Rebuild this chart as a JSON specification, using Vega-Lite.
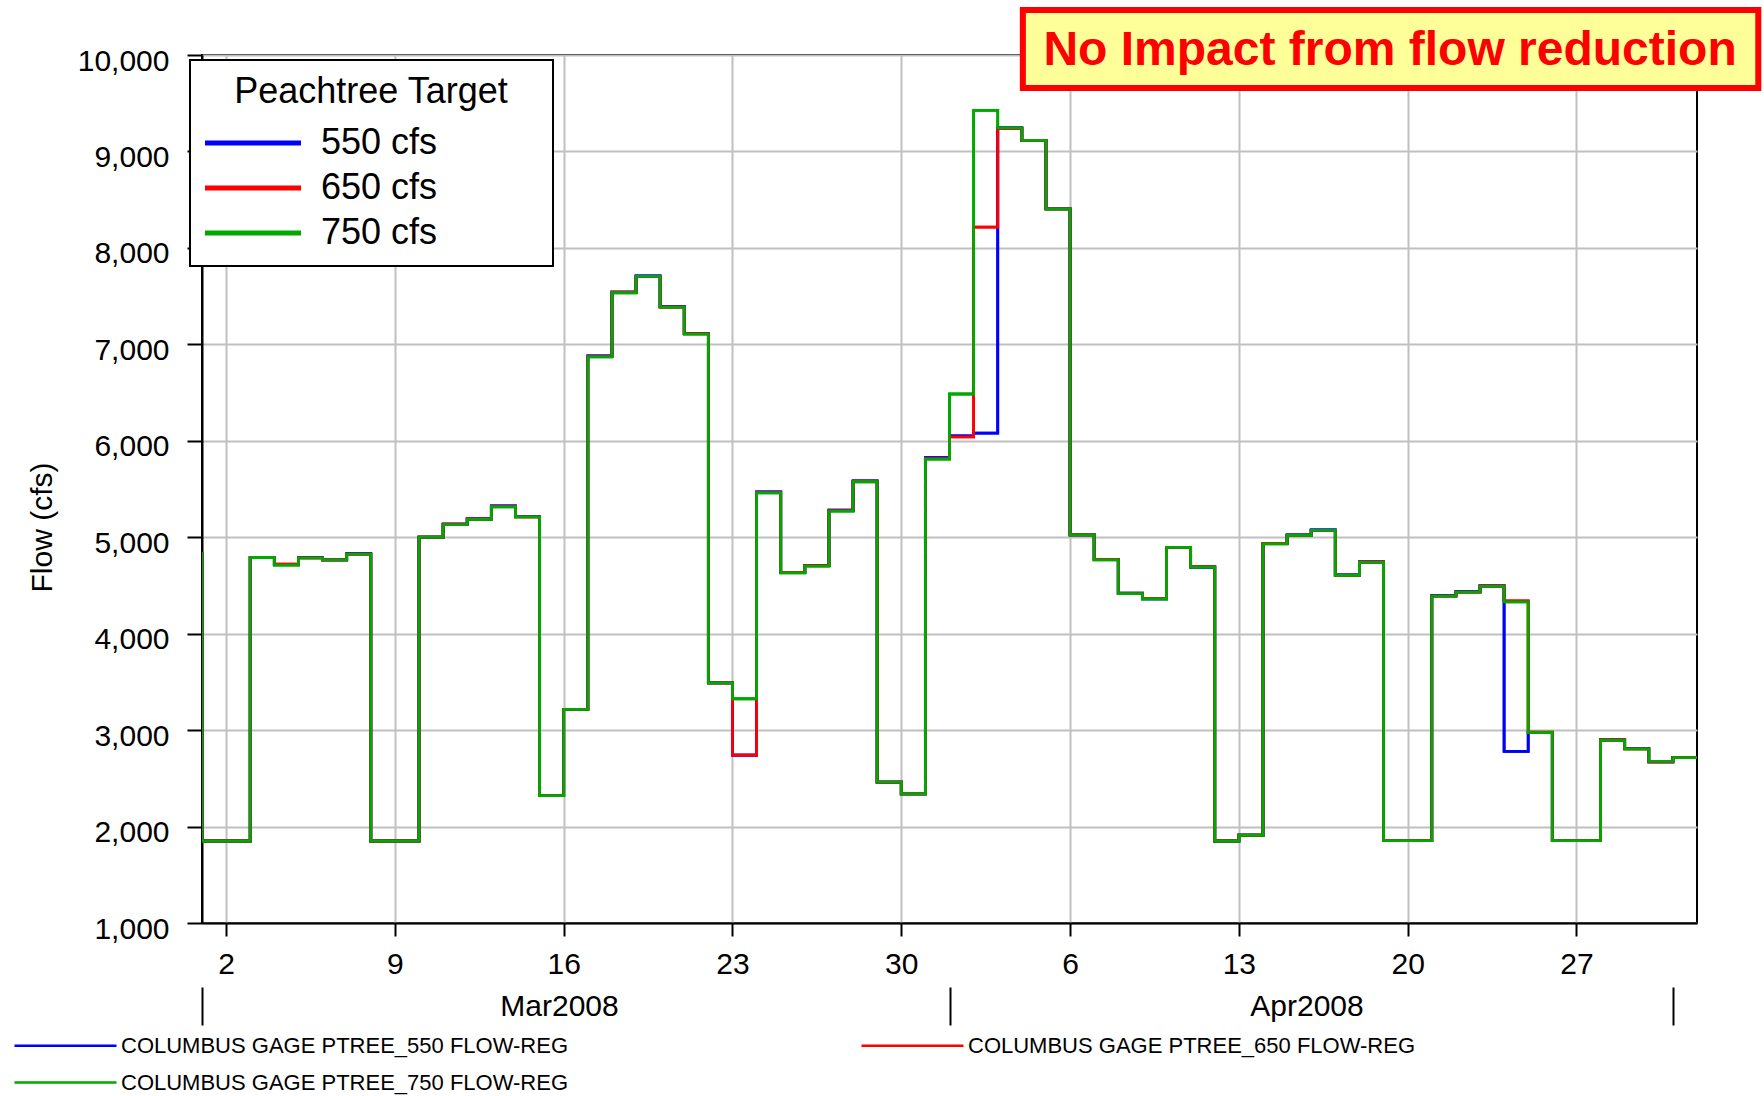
{
  "$schema": "https://vega.github.io/schema/vega-lite/v6.json",
  "width": 1495,
  "height": 868,
  "autosize": {"type": "none"},
  "padding": {"left": 202, "top": 55, "right": 67, "bottom": 173},
  "background": "white",
  "config": {
    "font": "Liberation Sans",
    "view": {"stroke": "#000000", "strokeWidth": 2},
    "axis": {"labelFont": "Liberation Sans", "titleFont": "Liberation Sans", "labelColor": "#000000", "titleColor": "#000000"},
    "legend": {"labelFont": "Liberation Sans", "titleFont": "Liberation Sans", "labelColor": "#000000", "titleColor": "#000000"}
  },
  "data": {
    "values": [
      {"date": "2008-02-29T00:00", "550 cfs": 4830, "650 cfs": 4830, "750 cfs": 4830},
      {"date": "2008-03-01T00:00", "550 cfs": 1850, "650 cfs": 1850, "750 cfs": 1850},
      {"date": "2008-03-02T00:00", "550 cfs": 1850, "650 cfs": 1850, "750 cfs": 1850},
      {"date": "2008-03-03T00:00", "550 cfs": 4790, "650 cfs": 4790, "750 cfs": 4790},
      {"date": "2008-03-04T00:00", "550 cfs": 4715, "650 cfs": 4720, "750 cfs": 4710},
      {"date": "2008-03-05T00:00", "550 cfs": 4790, "650 cfs": 4785, "750 cfs": 4785},
      {"date": "2008-03-06T00:00", "550 cfs": 4765, "650 cfs": 4765, "750 cfs": 4765},
      {"date": "2008-03-07T00:00", "550 cfs": 4830, "650 cfs": 4825, "750 cfs": 4825},
      {"date": "2008-03-08T00:00", "550 cfs": 1850, "650 cfs": 1850, "750 cfs": 1850},
      {"date": "2008-03-09T00:00", "550 cfs": 1850, "650 cfs": 1850, "750 cfs": 1850},
      {"date": "2008-03-10T00:00", "550 cfs": 5000, "650 cfs": 5000, "750 cfs": 5000},
      {"date": "2008-03-11T00:00", "550 cfs": 5135, "650 cfs": 5135, "750 cfs": 5130},
      {"date": "2008-03-12T00:00", "550 cfs": 5190, "650 cfs": 5190, "750 cfs": 5185},
      {"date": "2008-03-13T00:00", "550 cfs": 5325, "650 cfs": 5320, "750 cfs": 5315},
      {"date": "2008-03-14T00:00", "550 cfs": 5215, "650 cfs": 5210, "750 cfs": 5210},
      {"date": "2008-03-15T00:00", "550 cfs": 2320, "650 cfs": 2320, "750 cfs": 2320},
      {"date": "2008-03-16T00:00", "550 cfs": 3215, "650 cfs": 3215, "750 cfs": 3215},
      {"date": "2008-03-17T00:00", "550 cfs": 6880, "650 cfs": 6875, "750 cfs": 6870},
      {"date": "2008-03-18T00:00", "550 cfs": 7540, "650 cfs": 7540, "750 cfs": 7535},
      {"date": "2008-03-19T00:00", "550 cfs": 7710, "650 cfs": 7705, "750 cfs": 7705},
      {"date": "2008-03-20T00:00", "550 cfs": 7390, "650 cfs": 7385, "750 cfs": 7385},
      {"date": "2008-03-21T00:00", "550 cfs": 7110, "650 cfs": 7110, "750 cfs": 7105},
      {"date": "2008-03-22T00:00", "550 cfs": 3490, "650 cfs": 3490, "750 cfs": 3490},
      {"date": "2008-03-23T00:00", "550 cfs": 2740, "650 cfs": 2740, "750 cfs": 3325},
      {"date": "2008-03-24T00:00", "550 cfs": 5470, "650 cfs": 5465, "750 cfs": 5460},
      {"date": "2008-03-25T00:00", "550 cfs": 4635, "650 cfs": 4635, "750 cfs": 4630},
      {"date": "2008-03-26T00:00", "550 cfs": 4705, "650 cfs": 4705, "750 cfs": 4700},
      {"date": "2008-03-27T00:00", "550 cfs": 5280, "650 cfs": 5275, "750 cfs": 5270},
      {"date": "2008-03-28T00:00", "550 cfs": 5585, "650 cfs": 5580, "750 cfs": 5575},
      {"date": "2008-03-29T00:00", "550 cfs": 2460, "650 cfs": 2460, "750 cfs": 2460},
      {"date": "2008-03-30T00:00", "550 cfs": 2340, "650 cfs": 2340, "750 cfs": 2340},
      {"date": "2008-03-31T00:00", "550 cfs": 5825, "650 cfs": 5815, "750 cfs": 5810},
      {"date": "2008-04-01T00:00", "550 cfs": 6050, "650 cfs": 6040, "750 cfs": 6485},
      {"date": "2008-04-02T00:00", "550 cfs": 6080, "650 cfs": 8215, "750 cfs": 9425},
      {"date": "2008-04-03T00:00", "550 cfs": 9245, "650 cfs": 9240, "750 cfs": 9245},
      {"date": "2008-04-04T00:00", "550 cfs": 9115, "650 cfs": 9115, "750 cfs": 9115},
      {"date": "2008-04-05T00:00", "550 cfs": 8405, "650 cfs": 8405, "750 cfs": 8405},
      {"date": "2008-04-06T00:00", "550 cfs": 5025, "650 cfs": 5025, "750 cfs": 5025},
      {"date": "2008-04-07T00:00", "550 cfs": 4770, "650 cfs": 4770, "750 cfs": 4765},
      {"date": "2008-04-08T00:00", "550 cfs": 4420, "650 cfs": 4415, "750 cfs": 4415},
      {"date": "2008-04-09T00:00", "550 cfs": 4360, "650 cfs": 4365, "750 cfs": 4360},
      {"date": "2008-04-10T00:00", "550 cfs": 4895, "650 cfs": 4895, "750 cfs": 4895},
      {"date": "2008-04-11T00:00", "550 cfs": 4690, "650 cfs": 4695, "750 cfs": 4690},
      {"date": "2008-04-12T00:00", "550 cfs": 1850, "650 cfs": 1850, "750 cfs": 1850},
      {"date": "2008-04-13T00:00", "550 cfs": 1910, "650 cfs": 1910, "750 cfs": 1910},
      {"date": "2008-04-14T00:00", "550 cfs": 4935, "650 cfs": 4935, "750 cfs": 4930},
      {"date": "2008-04-15T00:00", "550 cfs": 5025, "650 cfs": 5020, "750 cfs": 5020},
      {"date": "2008-04-16T00:00", "550 cfs": 5075, "650 cfs": 5070, "750 cfs": 5070},
      {"date": "2008-04-17T00:00", "550 cfs": 4610, "650 cfs": 4605, "750 cfs": 4605},
      {"date": "2008-04-18T00:00", "550 cfs": 4745, "650 cfs": 4745, "750 cfs": 4740},
      {"date": "2008-04-19T00:00", "550 cfs": 1855, "650 cfs": 1855, "750 cfs": 1855},
      {"date": "2008-04-20T00:00", "550 cfs": 1855, "650 cfs": 1855, "750 cfs": 1855},
      {"date": "2008-04-21T00:00", "550 cfs": 4395, "650 cfs": 4390, "750 cfs": 4390},
      {"date": "2008-04-22T00:00", "550 cfs": 4435, "650 cfs": 4430, "750 cfs": 4430},
      {"date": "2008-04-23T00:00", "550 cfs": 4495, "650 cfs": 4495, "750 cfs": 4490},
      {"date": "2008-04-24T00:00", "550 cfs": 2780, "650 cfs": 4340, "750 cfs": 4330},
      {"date": "2008-04-25T00:00", "550 cfs": 2975, "650 cfs": 2980, "750 cfs": 2975},
      {"date": "2008-04-26T00:00", "550 cfs": 1855, "650 cfs": 1855, "750 cfs": 1855},
      {"date": "2008-04-27T00:00", "550 cfs": 1855, "650 cfs": 1855, "750 cfs": 1855},
      {"date": "2008-04-28T00:00", "550 cfs": 2900, "650 cfs": 2900, "750 cfs": 2895},
      {"date": "2008-04-29T00:00", "550 cfs": 2810, "650 cfs": 2805, "750 cfs": 2805},
      {"date": "2008-04-30T00:00", "550 cfs": 2670, "650 cfs": 2670, "750 cfs": 2675},
      {"date": "2008-05-01T00:00", "550 cfs": 2715, "650 cfs": 2715, "750 cfs": 2715},
      {"date": "2008-05-02T00:00", "550 cfs": 2715, "650 cfs": 2715, "750 cfs": 2715}
    ]
  },
  "resolve": {"scale": {"color": "independent"}, "axis": {"x": "independent"}},
  "layer": [
    {
      "transform": [{"fold": ["550 cfs", "650 cfs", "750 cfs"], "as": ["target", "flow"]}],
      "mark": {"type": "line", "interpolate": "step-after", "strokeWidth": 2.8, "clip": true},
      "encoding": {
        "x": {
          "field": "date", "type": "temporal",
          "scale": {"domain": [{"year": 2008, "month": 3, "date": 1}, {"year": 2008, "month": 5, "date": 2}]},
          "axis": {
            "orient": "bottom", "title": null,
            "values": [
              {"year": 2008, "month": 3, "date": 2}, {"year": 2008, "month": 3, "date": 9},
              {"year": 2008, "month": 3, "date": 16}, {"year": 2008, "month": 3, "date": 23},
              {"year": 2008, "month": 3, "date": 30}, {"year": 2008, "month": 4, "date": 6},
              {"year": 2008, "month": 4, "date": 13}, {"year": 2008, "month": 4, "date": 20},
              {"year": 2008, "month": 4, "date": 27}
            ],
            "format": "%-d",
            "grid": true, "gridColor": "#C0C0C0", "gridWidth": 2,
            "tickSize": 13, "tickWidth": 2, "tickColor": "#000000",
            "domainColor": "#000000", "domainWidth": 2,
            "labelFontSize": 30, "labelPadding": 13,
            "labelFlush": false, "labelOverlap": false, "labelBound": false
          }
        },
        "y": {
          "field": "flow", "type": "quantitative",
          "scale": {"domain": [1000, 10000], "nice": false, "zero": false},
          "axis": {
            "orient": "left",
            "values": [1000, 2000, 3000, 4000, 5000, 6000, 7000, 8000, 9000, 10000],
            "format": ",d",
            "title": "Flow (cfs)", "titleFontSize": 30, "titleFontWeight": "normal",
            "titleX": -160, "titleY": 472, "titleAngle": -90, "titleAlign": "center", "titleBaseline": "middle",
            "grid": true, "gridColor": "#C0C0C0", "gridWidth": 2,
            "tickSize": 15, "tickWidth": 2, "tickColor": "#000000",
            "domainColor": "#000000", "domainWidth": 2,
            "labelFontSize": 30, "labelPadding": 18, "labelOffset": 6
          }
        },
        "color": {
          "field": "target", "type": "nominal",
          "scale": {"domain": ["550 cfs", "650 cfs", "750 cfs"], "range": ["#0000FF", "#FF0000", "#00A800"]},
          "legend": {
            "title": "Peachtree Target", "orient": "none", "legendX": -12, "legendY": 5,
            "direction": "vertical", "padding": 15,
            "strokeColor": "#000000", "fillColor": "#FFFFFF",
            "titleFontSize": 36, "titleFontWeight": "normal", "titleAnchor": "middle", "titleLimit": 600, "titlePadding": 14,
            "labelFontSize": 36, "labelLimit": 600, "labelOffset": 80,
            "labelExpr": "datum.label + '\u00a0\u00a0\u00a0\u00a0\u00a0\u00a0\u00a0\u00a0\u00a0\u00a0\u200b'",
            "symbolType": "M-1.8,0H7.8", "symbolSize": 400, "symbolStrokeWidth": 5, "rowPadding": 9,
            "encode": {
              "legend": {"update": {"stroke": {"value": "#000000"}, "strokeWidth": {"value": 2}, "fill": {"value": "#FFFFFF"}}},
              "symbols": {"update": {"stroke": {"signal": "datum.value == '550 cfs' ? '#0000FF' : datum.value == '650 cfs' ? '#FF0000' : '#008000'"}}}
            }
          }
        }
      }
    },
    {
      "transform": [{"fold": ["550 cfs", "650 cfs", "750 cfs"], "as": ["target", "flow"]}],
      "mark": {"type": "line", "interpolate": "step-after", "strokeWidth": 2.8, "clip": true},
      "encoding": {
        "x": {
          "field": "date", "type": "temporal",
          "scale": {"domain": [{"year": 2008, "month": 3, "date": 1}, {"year": 2008, "month": 5, "date": 2}]},
          "axis": {
            "orient": "bottom", "title": null,
            "values": [{"year": 2008, "month": 3, "date": 1}, {"year": 2008, "month": 4, "date": 1}, {"year": 2008, "month": 5, "date": 1}],
            "labelExpr": "month(datum.value) == 4 ? '' : timeFormat(datum.value, '%b%Y')",
            "labelOffset": 357, "offset": 64,
            "tickSize": 38, "tickWidth": 2, "tickColor": "#000000",
            "domain": false, "grid": false,
            "labelFontSize": 30, "labelBaseline": "middle", "labelPadding": -19,
            "labelFlush": false, "labelOverlap": false, "labelBound": false
          }
        },
        "y": {
          "field": "flow", "type": "quantitative",
          "scale": {"domain": [1000, 10000], "nice": false, "zero": false}
        },
        "color": {
          "field": "target", "type": "nominal",
          "scale": {"domain": ["550 cfs", "650 cfs", "750 cfs"], "range": ["#0000FF", "#FF0000", "#00A800"]},
          "legend": {
            "title": null, "orient": "none", "legendX": -189, "legendY": 979,
            "direction": "horizontal", "columns": 2, "columnPadding": 287, "rowPadding": 14, "padding": 0,
            "labelFontSize": 22, "labelLimit": 800, "labelOffset": 85,
            "labelExpr": "'COLUMBUS GAGE PTREE_' + slice(datum.label, 0, 3) + ' FLOW-REG'",
            "symbolType": "M-1,0H9.2", "symbolSize": 400, "symbolStrokeWidth": 2.5
          }
        }
      }
    },
    {
      "data": {"values": [{"note": "No Impact from flow reduction"}]},
      "mark": {"type": "rect", "fill": "#FFFF99", "stroke": "#FF0000", "strokeWidth": 6},
      "encoding": {
        "x": {"datum": {"year": 2008, "month": 4, "date": 4, "hours": 1}, "type": "temporal",
              "scale": {"domain": [{"year": 2008, "month": 3, "date": 1}, {"year": 2008, "month": 5, "date": 2}]}, "axis": null},
        "x2": {"datum": {"year": 2008, "month": 5, "date": 4, "hours": 13}},
        "y": {"datum": 10467, "type": "quantitative", "scale": {"domain": [1000, 10000], "nice": false, "zero": false}},
        "y2": {"datum": 9658}
      }
    },
    {
      "data": {"values": [{"note": "No Impact from flow reduction"}]},
      "mark": {"type": "text", "font": "Liberation Sans", "fontSize": 48, "fontWeight": "bold", "color": "#FF0000", "align": "center", "baseline": "middle"},
      "encoding": {
        "x": {"datum": {"year": 2008, "month": 4, "date": 19, "hours": 6, "minutes": 30}, "type": "temporal",
              "scale": {"domain": [{"year": 2008, "month": 3, "date": 1}, {"year": 2008, "month": 5, "date": 2}]}, "axis": null},
        "y": {"datum": 10046, "type": "quantitative", "scale": {"domain": [1000, 10000], "nice": false, "zero": false}},
        "text": {"field": "note"}
      }
    }
  ]
}
